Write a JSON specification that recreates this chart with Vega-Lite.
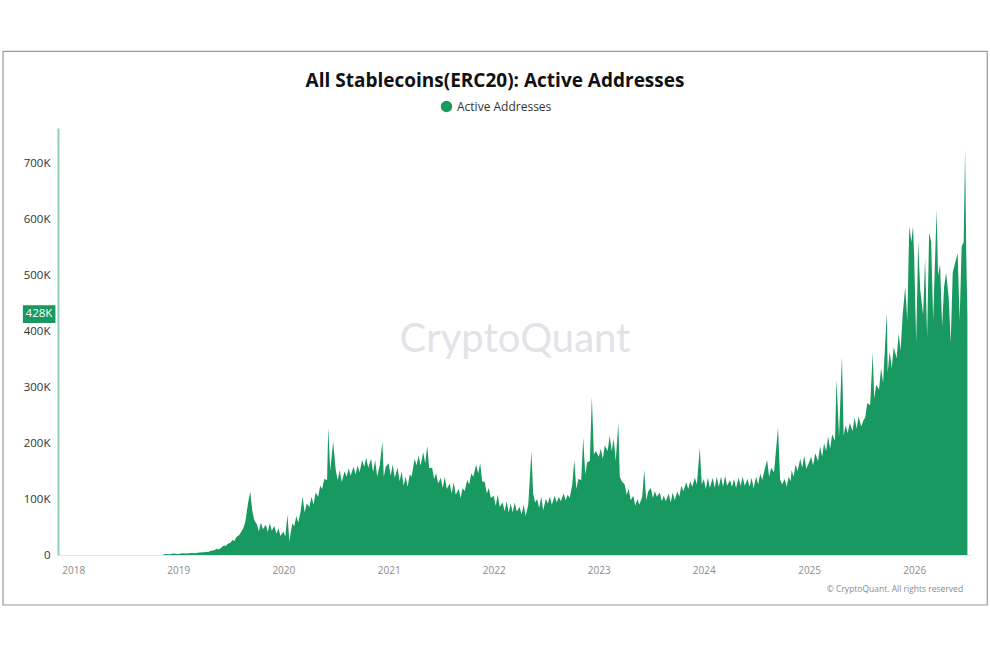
{
  "$schema": "https://vega.github.io/schema/vega-lite/v6.json",
  "width": 912,
  "height": 427,
  "autosize": {"type": "none"},
  "padding": {"left": 58, "top": 128, "right": 20, "bottom": 105},
  "background": "white",
  "title": {
    "text": "All Stablecoins(ERC20): Active Addresses",
    "font": "Open Sans",
    "fontSize": 19,
    "fontWeight": "bold",
    "color": "#111111",
    "anchor": "middle",
    "dx": -19,
    "offset": -40
  },
  "config": {
    "font": "Open Sans",
    "view": {"stroke": null}
  },
  "data": {"values": [{}]},
  "datasets": {
    "series": [
      {"date": "2018-11-10", "v": 1500}, {"date": "2018-11-20", "v": 2000}, {"date": "2018-12-01", "v": 1500}, {"date": "2018-12-15", "v": 2500},
      {"date": "2019-01-01", "v": 2000}, {"date": "2019-01-15", "v": 3000}, {"date": "2019-02-01", "v": 2500}, {"date": "2019-02-15", "v": 3500},
      {"date": "2019-03-01", "v": 3000}, {"date": "2019-03-15", "v": 4500},
      {"date": "2019-04-01", "v": 5000}, {"date": "2019-04-08", "v": 6000}, {"date": "2019-04-15", "v": 5500}, {"date": "2019-04-22", "v": 7000},
      {"date": "2019-05-01", "v": 8000}, {"date": "2019-05-08", "v": 9000}, {"date": "2019-05-15", "v": 11000}, {"date": "2019-05-22", "v": 10000},
      {"date": "2019-06-01", "v": 14000}, {"date": "2019-06-08", "v": 17000}, {"date": "2019-06-15", "v": 16000}, {"date": "2019-06-22", "v": 20000},
      {"date": "2019-07-01", "v": 22000}, {"date": "2019-07-08", "v": 27000}, {"date": "2019-07-15", "v": 25000}, {"date": "2019-07-22", "v": 32000},
      {"date": "2019-08-01", "v": 36000}, {"date": "2019-08-08", "v": 42000}, {"date": "2019-08-15", "v": 48000}, {"date": "2019-08-22", "v": 60000},
      {"date": "2019-09-01", "v": 95000}, {"date": "2019-09-08", "v": 113000}, {"date": "2019-09-15", "v": 80000}, {"date": "2019-09-22", "v": 62000},
      {"date": "2019-10-01", "v": 55000}, {"date": "2019-10-08", "v": 42000}, {"date": "2019-10-15", "v": 58000}, {"date": "2019-10-22", "v": 46000},
      {"date": "2019-11-01", "v": 54000}, {"date": "2019-11-08", "v": 41000}, {"date": "2019-11-15", "v": 57000}, {"date": "2019-11-22", "v": 44000},
      {"date": "2019-12-01", "v": 52000}, {"date": "2019-12-08", "v": 38000}, {"date": "2019-12-15", "v": 48000}, {"date": "2019-12-22", "v": 34000},
      {"date": "2020-01-01", "v": 42000}, {"date": "2020-01-08", "v": 33000}, {"date": "2020-01-15", "v": 72000}, {"date": "2020-01-22", "v": 25000},
      {"date": "2020-02-01", "v": 56000}, {"date": "2020-02-08", "v": 52000}, {"date": "2020-02-15", "v": 70000}, {"date": "2020-02-22", "v": 58000},
      {"date": "2020-03-01", "v": 78000}, {"date": "2020-03-08", "v": 104000}, {"date": "2020-03-15", "v": 76000}, {"date": "2020-03-22", "v": 92000},
      {"date": "2020-04-01", "v": 86000}, {"date": "2020-04-08", "v": 104000}, {"date": "2020-04-15", "v": 90000}, {"date": "2020-04-22", "v": 112000},
      {"date": "2020-05-01", "v": 104000}, {"date": "2020-05-08", "v": 124000}, {"date": "2020-05-15", "v": 118000}, {"date": "2020-05-22", "v": 136000},
      {"date": "2020-06-01", "v": 134000}, {"date": "2020-06-05", "v": 228000}, {"date": "2020-06-12", "v": 150000}, {"date": "2020-06-22", "v": 203000},
      {"date": "2020-07-01", "v": 152000}, {"date": "2020-07-08", "v": 134000}, {"date": "2020-07-15", "v": 152000}, {"date": "2020-07-22", "v": 130000},
      {"date": "2020-08-01", "v": 150000}, {"date": "2020-08-08", "v": 140000}, {"date": "2020-08-15", "v": 155000}, {"date": "2020-08-22", "v": 142000},
      {"date": "2020-09-01", "v": 158000}, {"date": "2020-09-08", "v": 144000}, {"date": "2020-09-15", "v": 160000}, {"date": "2020-09-22", "v": 148000},
      {"date": "2020-10-01", "v": 170000}, {"date": "2020-10-08", "v": 158000}, {"date": "2020-10-15", "v": 174000}, {"date": "2020-10-22", "v": 156000},
      {"date": "2020-11-01", "v": 172000}, {"date": "2020-11-08", "v": 148000}, {"date": "2020-11-15", "v": 170000}, {"date": "2020-11-22", "v": 140000},
      {"date": "2020-12-01", "v": 160000}, {"date": "2020-12-10", "v": 203000}, {"date": "2020-12-15", "v": 140000}, {"date": "2020-12-22", "v": 158000},
      {"date": "2021-01-01", "v": 164000}, {"date": "2021-01-08", "v": 142000}, {"date": "2021-01-15", "v": 162000}, {"date": "2021-01-22", "v": 138000},
      {"date": "2021-02-01", "v": 156000}, {"date": "2021-02-08", "v": 132000}, {"date": "2021-02-15", "v": 150000}, {"date": "2021-02-22", "v": 124000},
      {"date": "2021-03-01", "v": 140000}, {"date": "2021-03-08", "v": 122000}, {"date": "2021-03-15", "v": 144000}, {"date": "2021-03-22", "v": 140000},
      {"date": "2021-04-01", "v": 172000}, {"date": "2021-04-08", "v": 160000}, {"date": "2021-04-15", "v": 178000}, {"date": "2021-04-22", "v": 160000},
      {"date": "2021-05-01", "v": 184000}, {"date": "2021-05-08", "v": 164000}, {"date": "2021-05-15", "v": 195000}, {"date": "2021-05-22", "v": 155000},
      {"date": "2021-06-01", "v": 156000}, {"date": "2021-06-08", "v": 136000}, {"date": "2021-06-15", "v": 146000}, {"date": "2021-06-22", "v": 128000},
      {"date": "2021-07-01", "v": 138000}, {"date": "2021-07-08", "v": 120000}, {"date": "2021-07-15", "v": 140000}, {"date": "2021-07-22", "v": 118000},
      {"date": "2021-08-01", "v": 128000}, {"date": "2021-08-08", "v": 110000}, {"date": "2021-08-15", "v": 130000}, {"date": "2021-08-22", "v": 108000},
      {"date": "2021-09-01", "v": 118000}, {"date": "2021-09-08", "v": 102000}, {"date": "2021-09-15", "v": 120000}, {"date": "2021-09-22", "v": 114000},
      {"date": "2021-10-01", "v": 134000}, {"date": "2021-10-08", "v": 126000}, {"date": "2021-10-15", "v": 146000}, {"date": "2021-10-22", "v": 140000},
      {"date": "2021-11-01", "v": 162000}, {"date": "2021-11-08", "v": 146000}, {"date": "2021-11-15", "v": 164000}, {"date": "2021-11-22", "v": 132000},
      {"date": "2021-12-01", "v": 130000}, {"date": "2021-12-08", "v": 110000}, {"date": "2021-12-15", "v": 120000}, {"date": "2021-12-22", "v": 102000},
      {"date": "2022-01-01", "v": 106000}, {"date": "2022-01-08", "v": 88000}, {"date": "2022-01-15", "v": 108000}, {"date": "2022-01-22", "v": 86000},
      {"date": "2022-02-01", "v": 94000}, {"date": "2022-02-08", "v": 78000}, {"date": "2022-02-15", "v": 96000}, {"date": "2022-02-22", "v": 76000},
      {"date": "2022-03-01", "v": 92000}, {"date": "2022-03-08", "v": 76000}, {"date": "2022-03-15", "v": 94000}, {"date": "2022-03-22", "v": 78000},
      {"date": "2022-04-01", "v": 86000}, {"date": "2022-04-08", "v": 72000}, {"date": "2022-04-15", "v": 90000}, {"date": "2022-04-22", "v": 70000},
      {"date": "2022-05-01", "v": 90000}, {"date": "2022-05-12", "v": 185000}, {"date": "2022-05-18", "v": 110000}, {"date": "2022-05-25", "v": 94000},
      {"date": "2022-06-01", "v": 100000}, {"date": "2022-06-08", "v": 84000}, {"date": "2022-06-15", "v": 104000}, {"date": "2022-06-22", "v": 80000},
      {"date": "2022-07-01", "v": 100000}, {"date": "2022-07-08", "v": 92000}, {"date": "2022-07-15", "v": 104000}, {"date": "2022-07-22", "v": 90000},
      {"date": "2022-08-01", "v": 106000}, {"date": "2022-08-08", "v": 94000}, {"date": "2022-08-15", "v": 104000}, {"date": "2022-08-22", "v": 96000},
      {"date": "2022-09-01", "v": 110000}, {"date": "2022-09-08", "v": 98000}, {"date": "2022-09-15", "v": 108000}, {"date": "2022-09-22", "v": 102000},
      {"date": "2022-10-01", "v": 126000}, {"date": "2022-10-08", "v": 170000}, {"date": "2022-10-15", "v": 118000}, {"date": "2022-10-22", "v": 136000},
      {"date": "2022-11-01", "v": 134000}, {"date": "2022-11-08", "v": 210000}, {"date": "2022-11-15", "v": 144000}, {"date": "2022-11-22", "v": 166000},
      {"date": "2022-12-01", "v": 168000}, {"date": "2022-12-08", "v": 283000}, {"date": "2022-12-15", "v": 180000}, {"date": "2022-12-22", "v": 186000},
      {"date": "2023-01-01", "v": 176000}, {"date": "2023-01-08", "v": 190000}, {"date": "2023-01-15", "v": 172000}, {"date": "2023-01-22", "v": 196000},
      {"date": "2023-02-01", "v": 186000}, {"date": "2023-02-08", "v": 214000}, {"date": "2023-02-15", "v": 186000}, {"date": "2023-02-22", "v": 208000},
      {"date": "2023-03-01", "v": 168000}, {"date": "2023-03-10", "v": 236000}, {"date": "2023-03-15", "v": 140000}, {"date": "2023-03-22", "v": 132000},
      {"date": "2023-04-01", "v": 126000}, {"date": "2023-04-08", "v": 108000}, {"date": "2023-04-15", "v": 118000}, {"date": "2023-04-22", "v": 98000},
      {"date": "2023-05-01", "v": 106000}, {"date": "2023-05-08", "v": 88000}, {"date": "2023-05-15", "v": 100000}, {"date": "2023-05-22", "v": 90000},
      {"date": "2023-06-01", "v": 104000}, {"date": "2023-06-08", "v": 152000}, {"date": "2023-06-15", "v": 98000}, {"date": "2023-06-22", "v": 114000},
      {"date": "2023-07-01", "v": 120000}, {"date": "2023-07-08", "v": 102000}, {"date": "2023-07-15", "v": 114000}, {"date": "2023-07-22", "v": 104000},
      {"date": "2023-08-01", "v": 112000}, {"date": "2023-08-08", "v": 96000}, {"date": "2023-08-15", "v": 106000}, {"date": "2023-08-22", "v": 96000},
      {"date": "2023-09-01", "v": 110000}, {"date": "2023-09-08", "v": 94000}, {"date": "2023-09-15", "v": 112000}, {"date": "2023-09-22", "v": 98000},
      {"date": "2023-10-01", "v": 114000}, {"date": "2023-10-08", "v": 104000}, {"date": "2023-10-15", "v": 124000}, {"date": "2023-10-22", "v": 114000},
      {"date": "2023-11-01", "v": 130000}, {"date": "2023-11-08", "v": 118000}, {"date": "2023-11-15", "v": 132000}, {"date": "2023-11-22", "v": 122000},
      {"date": "2023-12-01", "v": 138000}, {"date": "2023-12-08", "v": 126000}, {"date": "2023-12-18", "v": 192000}, {"date": "2023-12-25", "v": 126000},
      {"date": "2024-01-01", "v": 136000}, {"date": "2024-01-08", "v": 118000}, {"date": "2024-01-15", "v": 138000}, {"date": "2024-01-22", "v": 120000},
      {"date": "2024-02-01", "v": 138000}, {"date": "2024-02-08", "v": 120000}, {"date": "2024-02-15", "v": 140000}, {"date": "2024-02-22", "v": 122000},
      {"date": "2024-03-01", "v": 140000}, {"date": "2024-03-08", "v": 122000}, {"date": "2024-03-15", "v": 142000}, {"date": "2024-03-22", "v": 124000},
      {"date": "2024-04-01", "v": 134000}, {"date": "2024-04-08", "v": 122000}, {"date": "2024-04-15", "v": 136000}, {"date": "2024-04-22", "v": 120000},
      {"date": "2024-05-01", "v": 138000}, {"date": "2024-05-08", "v": 124000}, {"date": "2024-05-15", "v": 140000}, {"date": "2024-05-22", "v": 124000},
      {"date": "2024-06-01", "v": 136000}, {"date": "2024-06-08", "v": 122000}, {"date": "2024-06-15", "v": 138000}, {"date": "2024-06-22", "v": 120000},
      {"date": "2024-07-01", "v": 140000}, {"date": "2024-07-08", "v": 126000}, {"date": "2024-07-15", "v": 146000}, {"date": "2024-07-22", "v": 134000},
      {"date": "2024-08-01", "v": 156000}, {"date": "2024-08-08", "v": 170000}, {"date": "2024-08-15", "v": 140000}, {"date": "2024-08-22", "v": 156000},
      {"date": "2024-09-01", "v": 148000}, {"date": "2024-09-15", "v": 228000}, {"date": "2024-09-22", "v": 136000}, {"date": "2024-09-29", "v": 126000},
      {"date": "2024-10-08", "v": 136000}, {"date": "2024-10-15", "v": 122000}, {"date": "2024-10-22", "v": 140000}, {"date": "2024-10-29", "v": 132000},
      {"date": "2024-11-01", "v": 152000}, {"date": "2024-11-08", "v": 140000}, {"date": "2024-11-15", "v": 162000}, {"date": "2024-11-22", "v": 150000},
      {"date": "2024-12-01", "v": 172000}, {"date": "2024-12-08", "v": 156000}, {"date": "2024-12-15", "v": 178000}, {"date": "2024-12-22", "v": 154000},
      {"date": "2025-01-01", "v": 166000}, {"date": "2025-01-08", "v": 176000}, {"date": "2025-01-15", "v": 160000}, {"date": "2025-01-22", "v": 182000},
      {"date": "2025-02-01", "v": 168000}, {"date": "2025-02-08", "v": 194000}, {"date": "2025-02-15", "v": 176000}, {"date": "2025-02-22", "v": 200000},
      {"date": "2025-03-01", "v": 186000}, {"date": "2025-03-08", "v": 212000}, {"date": "2025-03-15", "v": 190000}, {"date": "2025-03-22", "v": 216000},
      {"date": "2025-04-01", "v": 204000}, {"date": "2025-04-06", "v": 314000}, {"date": "2025-04-15", "v": 212000}, {"date": "2025-04-25", "v": 355000},
      {"date": "2025-05-01", "v": 214000}, {"date": "2025-05-08", "v": 232000}, {"date": "2025-05-15", "v": 218000}, {"date": "2025-05-22", "v": 236000},
      {"date": "2025-06-01", "v": 222000}, {"date": "2025-06-08", "v": 246000}, {"date": "2025-06-15", "v": 226000}, {"date": "2025-06-22", "v": 248000},
      {"date": "2025-07-01", "v": 230000}, {"date": "2025-07-08", "v": 240000}, {"date": "2025-07-15", "v": 246000}, {"date": "2025-07-22", "v": 272000},
      {"date": "2025-08-01", "v": 268000}, {"date": "2025-08-10", "v": 362000}, {"date": "2025-08-15", "v": 280000}, {"date": "2025-08-22", "v": 304000},
      {"date": "2025-09-01", "v": 296000}, {"date": "2025-09-08", "v": 334000}, {"date": "2025-09-15", "v": 308000}, {"date": "2025-09-28", "v": 434000},
      {"date": "2025-10-01", "v": 326000}, {"date": "2025-10-08", "v": 364000}, {"date": "2025-10-15", "v": 334000}, {"date": "2025-10-22", "v": 372000},
      {"date": "2025-11-01", "v": 352000}, {"date": "2025-11-08", "v": 396000}, {"date": "2025-11-15", "v": 366000}, {"date": "2025-11-22", "v": 430000},
      {"date": "2025-12-01", "v": 480000}, {"date": "2025-12-08", "v": 420000}, {"date": "2025-12-15", "v": 588000}, {"date": "2025-12-22", "v": 560000},
      {"date": "2025-12-28", "v": 588000},
      {"date": "2026-01-01", "v": 534000}, {"date": "2026-01-08", "v": 380000}, {"date": "2026-01-15", "v": 560000}, {"date": "2026-01-22", "v": 475000},
      {"date": "2026-02-01", "v": 430000}, {"date": "2026-02-08", "v": 530000}, {"date": "2026-02-15", "v": 390000}, {"date": "2026-02-22", "v": 577000},
      {"date": "2026-03-01", "v": 560000}, {"date": "2026-03-08", "v": 420000}, {"date": "2026-03-20", "v": 618000}, {"date": "2026-03-25", "v": 500000},
      {"date": "2026-04-01", "v": 520000}, {"date": "2026-04-08", "v": 409000}, {"date": "2026-04-15", "v": 480000}, {"date": "2026-04-22", "v": 505000},
      {"date": "2026-05-01", "v": 460000}, {"date": "2026-05-08", "v": 380000}, {"date": "2026-05-15", "v": 505000}, {"date": "2026-05-22", "v": 520000},
      {"date": "2026-06-01", "v": 540000}, {"date": "2026-06-08", "v": 420000}, {"date": "2026-06-15", "v": 552000}, {"date": "2026-06-22", "v": 560000},
      {"date": "2026-06-27", "v": 726000}, {"date": "2026-07-01", "v": 540000}, {"date": "2026-07-05", "v": 428000}
    ]
  },
  "layer": [
    {
      "mark": {"type": "rect", "fill": null, "stroke": "#9a9a9a", "strokeWidth": 1.2, "clip": false},
      "encoding": {
        "x": {"datum": {"year": 2017, "month": 5, "date": 2}, "type": "temporal"},
        "x2": {"datum": {"year": 2026, "month": 9, "date": 12}},
        "y": {"datum": 901000, "type": "quantitative"},
        "y2": {"datum": -89500}
      }
    },
    {
      "mark": {"type": "text", "fontSize": 40, "font": "Lato", "color": "#e2e2e8", "align": "center", "baseline": "middle"},
      "encoding": {
        "x": {"datum": {"year": 2022, "month": 3, "date": 16}, "type": "temporal"},
        "y": {"datum": 385000, "type": "quantitative"},
        "text": {"value": "CryptoQuant"}
      }
    },
    {
      "data": {"name": "series"},
      "mark": {"type": "area", "interpolate": "linear", "opacity": 1},
      "encoding": {
        "x": {
          "field": "date",
          "type": "temporal",
          "scale": {"domain": [{"year": 2017, "month": 11, "date": 9}, {"year": 2026, "month": 7, "date": 14}]},
          "axis": {
            "title": null,
            "format": "%Y",
            "tickCount": {"interval": "year", "step": 1},
            "labelColor": "#8a8a8a",
            "labelFontSize": 10,
            "labelPadding": 10,
            "ticks": false,
            "domainColor": "#e6e6e6",
            "grid": false
          }
        },
        "y": {
          "field": "v",
          "type": "quantitative",
          "scale": {"domain": [0, 764000], "nice": false},
          "axis": {
            "title": null,
            "values": [0, 100000, 200000, 300000, 400000, 500000, 600000, 700000],
            "labelExpr": "datum.value == 0 ? '0' : (datum.value / 1000) + 'K'",
            "labelColor": "#333333",
            "labelFontSize": 11.5,
            "labelPadding": 8,
            "ticks": false,
            "domainColor": "#8fd0b6",
            "domainWidth": 2,
            "gridColor": "#f4f4f4",
            "gridWidth": 1
          }
        },
        "color": {
          "datum": "Active Addresses",
          "type": "nominal",
          "scale": {"range": ["#17995f"]},
          "legend": {
            "title": null,
            "orient": "none",
            "legendX": 382,
            "legendY": -28,
            "symbolType": "circle",
            "symbolSize": 130,
            "labelFontSize": 12,
            "labelColor": "#333333",
            "labelOffset": 4
          }
        }
      }
    },
    {
      "mark": {"type": "rect", "color": "#17995f", "clip": false},
      "encoding": {
        "x": {"datum": {"year": 2017, "month": 7, "date": 10}, "type": "temporal"},
        "x2": {"datum": {"year": 2017, "month": 10, "date": 31}},
        "y": {"datum": 447000, "type": "quantitative"},
        "y2": {"datum": 415000}
      }
    },
    {
      "mark": {"type": "text", "color": "white", "fontSize": 11.5, "align": "center", "baseline": "middle", "clip": false},
      "encoding": {
        "x": {"datum": {"year": 2017, "month": 9, "date": 4}, "type": "temporal"},
        "y": {"datum": 431000, "type": "quantitative"},
        "text": {"value": "428K"}
      }
    },
    {
      "mark": {"type": "text", "color": "#8a8a8a", "fontSize": 8.5, "align": "right", "baseline": "middle", "clip": false},
      "encoding": {
        "x": {"datum": {"year": 2026, "month": 6, "date": 20}, "type": "temporal"},
        "y": {"datum": -61000, "type": "quantitative"},
        "text": {"value": "© CryptoQuant. All rights reserved"}
      }
    }
  ]
}
